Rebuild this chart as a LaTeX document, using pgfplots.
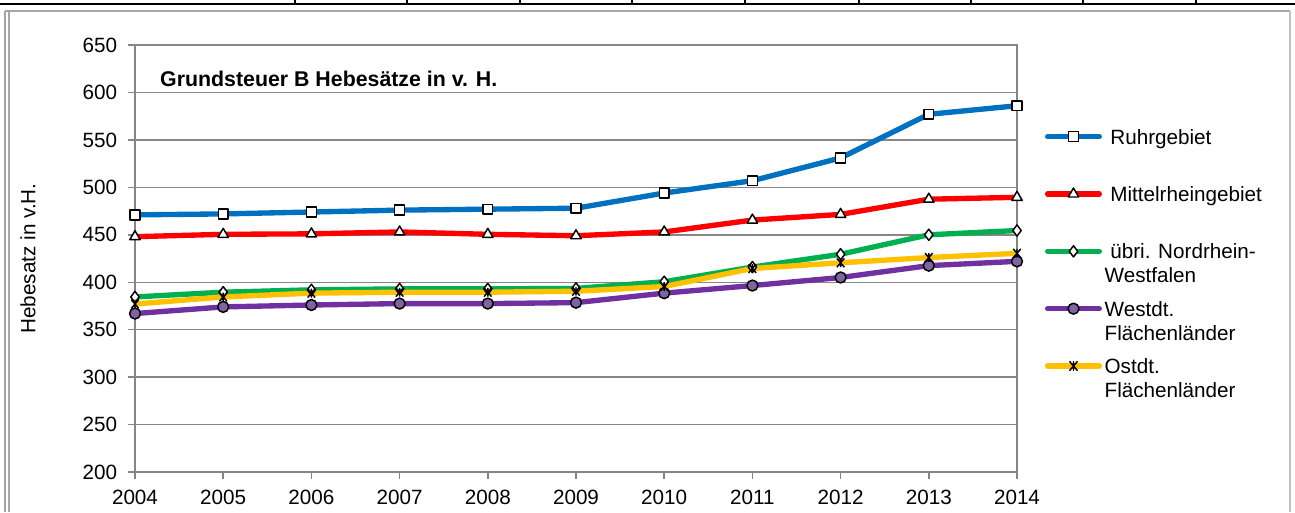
\documentclass[border=0pt]{standalone}
\usepackage{fontspec}
\setmainfont{Liberation Sans}
\usepackage{pgfplots}
\pgfplotsset{compat=1.18}
\definecolor{cRuhr}{HTML}{0070C0}
\definecolor{cMittel}{HTML}{FF0000}
\definecolor{cNRW}{HTML}{00B050}
\definecolor{cWest}{HTML}{7030A0}
\definecolor{cWestFill}{HTML}{8064A2}
\definecolor{cOst}{HTML}{FFC000}
\definecolor{axgray}{HTML}{868686}
\definecolor{framegray}{HTML}{A6A6A6}
\pgfdeclareplotmark{xstar}{%
  \pgfpathmoveto{\pgfqpoint{0pt}{\pgfplotmarksize}}%
  \pgfpathlineto{\pgfqpoint{0pt}{-\pgfplotmarksize}}%
  \pgfpathmoveto{\pgfqpoint{-0.85\pgfplotmarksize}{\pgfplotmarksize}}%
  \pgfpathlineto{\pgfqpoint{0.85\pgfplotmarksize}{-\pgfplotmarksize}}%
  \pgfpathmoveto{\pgfqpoint{-0.85\pgfplotmarksize}{-\pgfplotmarksize}}%
  \pgfpathlineto{\pgfqpoint{0.85\pgfplotmarksize}{\pgfplotmarksize}}%
  \pgfusepathqstroke}
\begin{document}
\fontsize{15.5}{18}\selectfont
\begin{tikzpicture}[font=\fontsize{15.5}{18}\selectfont]
\useasboundingbox (0,0) rectangle (971.25pt,-384pt);
\begin{scope}[x=0.75pt,y=-0.75pt]
  \draw[black,line width=1.5pt] (0,4) -- (1295,4);
  \foreach \xx in {295,407,520,632,745,859,971,1083,1196} \draw[black,line width=0.9pt] (\xx,0) -- (\xx,4);
  \draw[framegray,line width=1.5pt] (5,11) -- (1290,11);
  \draw[framegray!70,line width=0.9pt] (1290,11) -- (1290,512);
  \draw[framegray,line width=1.1pt] (5,11) -- (5,512);
  \draw[framegray,line width=1.1pt] (9,11) -- (9,512);
\end{scope}
\begin{axis}[
  scale only axis, width=661.5pt, height=320.25pt,
  at={(101.25pt,-354pt)}, anchor=south west,
  xmin=2004, xmax=2014, ymin=200, ymax=650,
  xtick={2004,2005,...,2014}, ytick={200,250,...,650},
  /pgf/number format/assume math mode=true,
  /pgf/number format/1000 sep={},
  ymajorgrids, grid style={line width=1.1pt, color=axgray},
  axis line style={line width=1.1pt, color=axgray},
  tick style={line width=1.1pt, color=axgray},
  tick align=outside, tick pos=left, major tick length=5pt,
  xticklabel style={yshift=-3pt},
  yticklabel style={xshift=-3pt},
  ylabel={Hebesatz in v.H.},
  ylabel style={at={(axis description cs:-0.1213,0.5)}, anchor=center},
  legend style={at={(axis description cs:1.0317,0.8025)}, anchor=north west,
    draw=none, fill=none, inner sep=0pt, outer sep=0pt, row sep=0pt, column sep=2pt,
    cells={anchor=base west},
    nodes={inner sep=0pt, text height=11pt, text depth=32pt}},
  legend image code/.code={\draw[mark repeat=2,mark phase=2,line cap=round,#1] plot coordinates {(0pt,5.5pt)(19.4pt,5.5pt)(38.75pt,5.5pt)};},
]
\addplot[color=cRuhr, line width=4pt, line join=round, mark=square*, mark size=3.7pt,
  mark options={fill=white, draw=black, line width=1.1pt}]
  coordinates {(2004,471)(2005,472)(2006,474)(2007,476)(2008,477)(2009,478)(2010,494)(2011,507)(2012,531)(2013,577)(2014,586)};
\addlegendentry{\parbox[t]{5cm}{\raggedright\ Ruhrgebiet}}
\addplot[color=cMittel, line width=4pt, line join=round, mark=triangle*, mark size=4.5pt,
  mark options={fill=white, draw=black, line width=1.1pt}]
  coordinates {(2004,448)(2005,450.5)(2006,451)(2007,453)(2008,450.5)(2009,449)(2010,453)(2011,465.5)(2012,471.5)(2013,487.5)(2014,489.5)};
\addlegendentry{\parbox[t]{5cm}{\raggedright\ Mittelrheingebiet}}
\addplot[color=cNRW, line width=4pt, line join=round, mark=diamond*, mark size=4.2pt,
  mark options={fill=white, draw=black, line width=1.1pt}]
  coordinates {(2004,384.5)(2005,389.5)(2006,392)(2007,393)(2008,393)(2009,393.5)(2010,400.5)(2011,416)(2012,429.5)(2013,450)(2014,454.5)};
\addlegendentry{\parbox[t]{5cm}{\raggedright\ übri. Nordrhein-\\Westfalen}}
\addplot[color=cWest, line width=4pt, line join=round, mark=*, mark size=4.1pt,
  mark options={fill=cWestFill, draw=black, line width=1.1pt}]
  coordinates {(2004,367)(2005,374)(2006,376)(2007,377.5)(2008,377.5)(2009,378.5)(2010,388.5)(2011,396.5)(2012,405)(2013,417.5)(2014,422)};
\addlegendentry{\parbox[t]{5cm}{\raggedright Westdt.\\Flächenländer}}
\addplot[color=cOst, line width=4pt, line join=round, mark=xstar, mark size=3.3pt,
  mark options={draw=black, line width=1.1pt}]
  coordinates {(2004,377)(2005,384.5)(2006,388.5)(2007,389.5)(2008,389.5)(2009,390.5)(2010,395.5)(2011,414.5)(2012,420.5)(2013,426)(2014,430.5)};
\addlegendentry{\parbox[t]{5cm}{\raggedright Ostdt.\\Flächenländer}}
\node[anchor=base west, inner sep=0pt, font=\bfseries\fontsize{16}{18}\selectfont] at (axis description cs:0.0283,0.904) {Grundsteuer B Hebesätze in v. H.};
\end{axis}
\end{tikzpicture}
\end{document}
